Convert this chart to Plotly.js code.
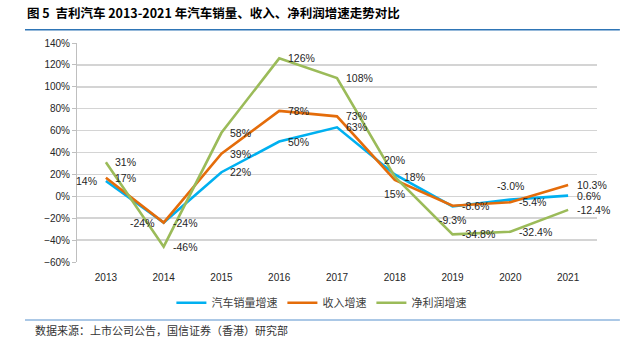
<!DOCTYPE html>
<html>
<head>
<meta charset="utf-8">
<script src="https://cdn.plot.ly/plotly-3.0.1.min.js"></script>
<style>
html,body{margin:0;padding:0;background:#fff;}
#chart{width:626px;height:353px;}
</style>
</head>
<body>
<div id="chart"></div>
<script>
// ---- data ----
const years = ['2013','2014','2015','2016','2017','2018','2019','2020','2021'];
const salesGrowth = [14, -24, 22, 50, 63, 20, -9.3, -3.0, 0.6];
const revenueGrowth = [17, -24, 39, 78, 73, 15, -8.6, -5.4, 10.3];
const profitGrowth = [31, -46, 58, 126, 108, 18, -34.8, -32.4, -12.4];
const labelDecimals = [0, 0, 0, 0, 0, 0, 1, 1, 1];
const seriesNames = ['汽车销量增速', '收入增速', '净利润增速'];
const yTickRange = [-60, 140];

// ---- label placement (l=left, r=right, t=top, b=bottom) ----
const salesPos = ['l','l','r','r','r','t','b','t','r'];
const revenuePos = ['r','r','r','r','r','b','r','r','r'];
const profitPos = ['r','r','r','r','r','r','r','r','r'];

const colors = ['#00B0F0', '#E46C0A', '#9BBB59'];
const FONT = '"Liberation Sans", Arial, "Noto Sans CJK SC", sans-serif';
const CJK = '"Noto Sans CJK SC", "Liberation Sans", sans-serif';

const seriesList = [salesGrowth, revenueGrowth, profitGrowth];
const posList = [salesPos, revenuePos, profitPos];

const traces = seriesList.map((vals, i) => ({
  x: years, y: vals, type: 'scatter', mode: 'lines', name: seriesNames[i],
  line: {color: colors[i], width: 2.6}, hoverinfo: 'skip'
}));

const annotations = [];
seriesList.forEach((vals, i) => {
  vals.forEach((v, j) => {
    const p = posList[i][j];
    // category axis: annotation x is the category index of years[j]
    const a = {
      x: years.indexOf(years[j]), y: v, xref: 'x', yref: 'y',
      text: v.toFixed(labelDecimals[j]) + '%', showarrow: false,
      font: {family: FONT, size: 10.5, color: '#262626'}
    };
    if (p === 'r') { a.xanchor = 'left'; a.yanchor = 'middle'; a.xshift = 7; }
    if (p === 'l') { a.xanchor = 'right'; a.yanchor = 'middle'; a.xshift = -7; }
    if (p === 't') { a.xanchor = 'center'; a.yanchor = 'bottom'; a.yshift = 6; }
    if (p === 'b') { a.xanchor = 'center'; a.yanchor = 'top'; a.yshift = -6; }
    annotations.push(a);
  });
});

annotations.push({
  xref: 'paper', yref: 'paper', x: -0.085, y: -0.31, xanchor: 'left', yanchor: 'middle',
  text: '数据来源：上市公司公告，国信证券（香港）研究部', showarrow: false,
  font: {family: CJK, size: 11, color: '#333333'}
});

const zeroPos = (0 - yTickRange[0]) / (yTickRange[1] - yTickRange[0]);

const layout = {
  width: 626, height: 353,
  margin: {l: 77, r: 29, t: 43, b: 91},
  paper_bgcolor: '#ffffff', plot_bgcolor: '#ffffff',
  showlegend: true,
  title: {
    text: '<b>图 5  吉利汽车 2013-2021 年汽车销量、收入、净利润增速走势对比</b>',
    font: {family: CJK, size: 12.5, color: '#000000'},
    x: 27/626, xanchor: 'left', xref: 'container',
    y: 1 - 14/353, yanchor: 'middle', yref: 'container'
  },
  xaxis: {
    type: 'category', categoryarray: years, range: [-0.5, 8.5],
    showgrid: false, zeroline: false, showline: false, ticks: '',
    tickfont: {family: FONT, size: 10, color: '#262626'},
    ticklabelstandoff: 8, fixedrange: true
  },
  xaxis2: {
    type: 'linear', overlaying: 'x', anchor: 'free', position: zeroPos,
    range: [-0.5, 8.5], tick0: -0.5, dtick: 1,
    showticklabels: false, showgrid: false, zeroline: false,
    showline: true, linecolor: '#A6A6A6', linewidth: 1,
    ticks: 'outside', ticklen: 4, tickcolor: '#A6A6A6', tickwidth: 1
  },
  yaxis: {
    range: yTickRange, dtick: 20, ticksuffix: '%',
    showgrid: true, gridcolor: '#D4D4D4', gridwidth: 1.5,
    zeroline: false, showline: true, linecolor: '#BFBFBF', linewidth: 1,
    ticks: 'outside', ticklen: 4, tickcolor: '#BFBFBF',
    tickfont: {family: FONT, size: 10, color: '#262626'}, fixedrange: true
  },
  legend: {
    orientation: 'h', x: 0.47, xanchor: 'center', y: -0.186, yanchor: 'middle',
    font: {family: CJK, size: 11, color: '#404040'},
    itemclick: false, itemdoubleclick: false, tracegroupgap: 0
  },
  shapes: [
    {type: 'line', xref: 'paper', yref: 'paper', x0: -0.1, x1: 1.044, y0: 1.061, y1: 1.061,
     line: {color: '#2E75B6', width: 1.5}},
    {type: 'line', xref: 'paper', yref: 'paper', x0: -0.1, x1: 1.044, y0: -0.265, y1: -0.265,
     line: {color: '#8FB6DE', width: 1.5}}
  ],
  annotations: annotations
};

Plotly.newPlot('chart', traces, layout, {displayModeBar: false, staticPlot: true});
</script>
</body>
</html>
